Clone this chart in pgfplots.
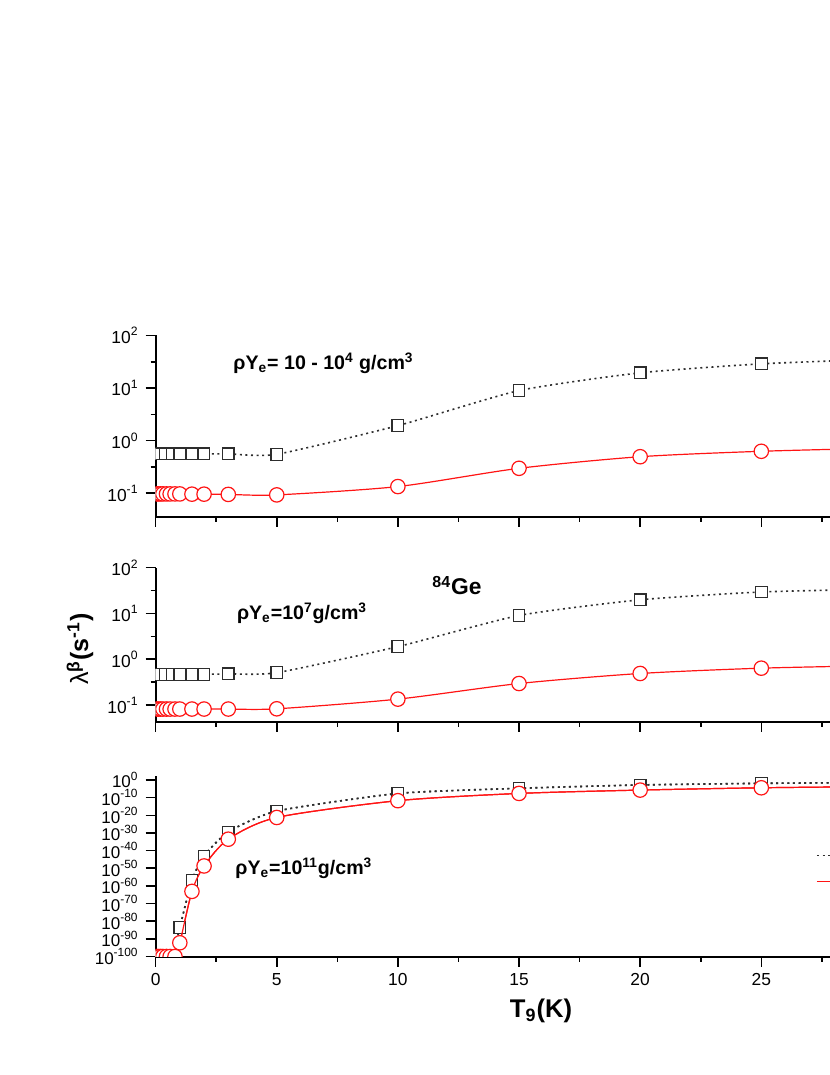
\documentclass[border=0pt]{standalone}
\usepackage{pgfplots}
\pgfplotsset{compat=1.18}
\usepackage{fontspec}
\setmainfont{Liberation Sans}
\definecolor{sqgray}{RGB}{45,45,45}
\definecolor{myred}{RGB}{255,20,20}

\pgfplotstableread{
x y
0.01 0.56
0.1 0.56
0.2 0.56
0.4 0.56
0.7 0.56
1 0.56
1.5 0.56
2 0.56
3 0.56
5 0.55
10 1.93
15 8.96
20 19.5
25 28.9
30 35.5
}\topsq
\pgfplotstableread{
x y
0.01 0.097
0.1 0.097
0.2 0.097
0.3 0.097
0.45 0.097
0.6 0.097
0.8 0.097
1 0.097
1.5 0.096
2 0.096
3 0.095
5 0.093
10 0.134
15 0.298
20 0.495
25 0.628
30 0.72
}\topci
\pgfplotstableread{
x y
0.01 0.47
0.1 0.47
0.2 0.47
0.4 0.47
0.7 0.47
1 0.47
1.5 0.47
2 0.47
3 0.48
5 0.51
10 1.89
15 9.05
20 19.9
25 29.5
30 34
}\midsq
\pgfplotstableread{
x y
0.01 0.082
0.1 0.082
0.2 0.082
0.3 0.082
0.45 0.082
0.6 0.082
0.8 0.082
1 0.082
1.5 0.082
2 0.082
3 0.082
5 0.083
10 0.135
15 0.296
20 0.49
25 0.64
30 0.73
}\midci
\pgfplotstableread{
x y
0.01 1e-100
0.1 1e-100
0.2 1e-100
0.4 1e-100
0.7 1e-100
1 3e-84
1.5 1.6e-57
2 1e-43
3 4e-30
5 2.5e-18
10 2.5e-8
15 2e-5
20 1.6e-3
25 1.3e-2
30 4e-2
}\botsq
\pgfplotstableread{
x y
0.01 1e-100
0.1 1e-100
0.2 1e-100
0.3 1e-100
0.45 1e-100
0.6 1e-100
0.8 1e-100
1 6e-93
1.5 8e-64
2 2e-49
3 3e-34
5 6e-22
10 2e-12
15 2.5e-8
20 2e-6
25 4e-5
30 2e-4
}\botci

\pgfplotsset{
  panel/.style={
    scale only axis, width=337.5bp, xmin=0, xmax=27.86,
    axis lines*=left,
    tick align=outside,
    major tick length=5bp, minor tick length=2.5bp,
    xtick={0,5,...,25}, minor xtick={2.5,7.5,...,27.5},
    axis line style={line width=1bp, black},
    tick style={line width=0.8bp, black},
    tick label style={font=\fontsize{8.7bp}{10bp}\selectfont},
    clip=true, clip marker paths=true,
  },
  sqplot/.style={sqgray, line width=0.8bp, dash pattern=on 1bp off 1.8bp, smooth, tension=0.35,
    mark=square*, mark size=2.9bp, mark options={solid, fill=white, draw=sqgray, line width=0.6bp}},
  ciplot/.style={myred, line width=0.6bp, smooth, tension=0.45,
    mark=*, mark size=3.6bp, mark options={solid, fill=white, draw=myred, line width=0.6bp}},
}

\begin{document}
\begin{tikzpicture}
% top panel
\begin{axis}[ymode=log, panel, /pgf/number format/assume math mode=true,
  at={(77.8bp,279.15bp)}, anchor=south west,
  height=90.6bp, ymin=0.0358, ymax=100,
  xticklabels={},
  ytick={0.1,1,10,100}, minor ytick={0.3162,3.162,31.62},
  yticklabels={10\textsuperscript{-1},10\textsuperscript{0},10\textsuperscript{1},10\textsuperscript{2}}]
\addplot[sqplot] table {\topsq};
\addplot[ciplot] table {\topci};
\end{axis}
% middle panel
\begin{axis}[ymode=log, panel, /pgf/number format/assume math mode=true,
  at={(77.8bp,176.65bp)}, anchor=south west,
  height=77bp, ymin=0.0434, ymax=100,
  xticklabels={},
  ytick={0.1,1,10,100}, minor ytick={0.3162,3.162,31.62},
  yticklabels={10\textsuperscript{-1},10\textsuperscript{0},10\textsuperscript{1},10\textsuperscript{2}}]
\addplot[sqplot] table {\midsq};
\addplot[ciplot] table {\midci};
\end{axis}
% bottom panel
\begin{axis}[ymode=log, panel, /pgf/number format/assume math mode=true,
  at={(77.8bp,59.25bp)}, anchor=south west,
  height=90bp, ymin=1e-100, ymax=1e2,
  ytick={1e-100,1e-90,1e-80,1e-70,1e-60,1e-50,1e-40,1e-30,1e-20,1e-10,1},
  minor ytick={},
  yticklabel style={inner ysep=0pt, font=\fontsize{8.5bp}{9bp}\selectfont},
  yticklabels={10\textsuperscript{-100},10\textsuperscript{-90},10\textsuperscript{-80},10\textsuperscript{-70},10\textsuperscript{-60},10\textsuperscript{-50},10\textsuperscript{-40},10\textsuperscript{-30},10\textsuperscript{-20},10\textsuperscript{-10},10\textsuperscript{0}},
  legend style={at={(axis description cs:0.978,0.49)}, anchor=west, draw=none, fill=none,
    inner sep=0pt, font=\fontsize{8.5bp}{10bp}\selectfont, row sep=3bp},
  legend cell align=left]
\addplot[sqplot, mark=none] table {\botsq};
\addplot[ciplot, mark=none] table {\botci};
\addplot[sqplot, forget plot] table {\botsq};
\addplot[ciplot, forget plot] table {\botci};
\addlegendentry{\phantom{x}}
\addlegendentry{\phantom{x}}
\end{axis}

\tikzset{every node/.append style={inner sep=0pt}}
\node[anchor=base west, font=\bfseries\fontsize{9.8bp}{11bp}\selectfont] at (116.5bp,352.5bp)
  {ρY\textsubscript{e}= 10 - 10\textsuperscript{4} g/cm\textsuperscript{3}};
\node[anchor=base west, font=\bfseries\fontsize{9.8bp}{11bp}\selectfont] at (118.3bp,227.5bp)
  {ρY\textsubscript{e}=10\textsuperscript{7}g/cm\textsuperscript{3}};
\node[anchor=base west, font=\bfseries\fontsize{11.4bp}{13bp}\selectfont] at (216bp,240bp)
  {\textsuperscript{84}Ge};
\node[anchor=base west, font=\bfseries\fontsize{9.8bp}{11bp}\selectfont] at (117.5bp,100bp)
  {ρY\textsubscript{e}=10\textsuperscript{11}g/cm\textsuperscript{3}};
\node[rotate=90, font=\bfseries\fontsize{12.5bp}{14bp}\selectfont] at (40bp,213bp)
  {{\mdseries λ}\textsuperscript{β}(s\textsuperscript{-1})};
\node[anchor=base, font=\bfseries\fontsize{12.8bp}{14bp}\selectfont] at (270.5bp,29bp)
  {T\textsubscript{9}(K)};

\pgfresetboundingbox
\useasboundingbox (0,0) rectangle (415bp,537.5bp);
\end{tikzpicture}
\end{document}
